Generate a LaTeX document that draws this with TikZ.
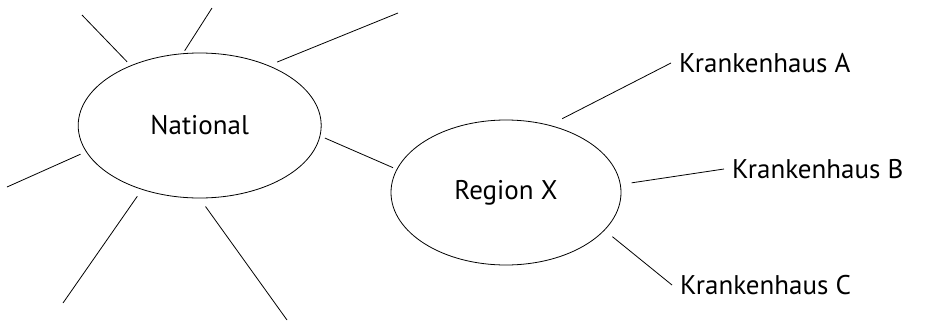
\documentclass[tikz,border=0pt]{standalone}
\usepackage{fontspec}
\setmainfont{PT Sans}
\usetikzlibrary{shapes.geometric}

\begin{document}
\begin{tikzpicture}[x=1pt,y=-1pt,
    every node/.style={font=\fontsize{27}{32}\selectfont},
    feld/.style={draw,ellipse,line width=0.8pt,inner sep=0pt},
    strahl/.style={line width=0.8pt},
    haus/.style={anchor=west,inner xsep=8pt,inner ysep=0pt}]
    \useasboundingbox (0,0) rectangle (930,322);
    % Ellipsen
    \node[feld,minimum width=243pt,minimum height=145pt] (nat) at (199.7,125.5) {National};
    \node[feld,minimum width=230pt,minimum height=145pt] (reg) at (506,192.5) {Region X};
    % Krankenhaeuser
    \node[haus] (kA) at (671,63) {Krankenhaus A};
    \node[haus] (kB) at (724,169) {Krankenhaus B};
    \node[haus] (kC) at (672,285) {Krankenhaus C};
    % freie Enden
    \coordinate (s1) at (82,15);
    \coordinate (s2) at (212,8);
    \coordinate (s3) at (398,13);
    \coordinate (s4) at (7,187);
    \coordinate (s5) at (63,303);
    \coordinate (s6) at (287,320);
    % Strahlen um National
    \draw[strahl,shorten <=5pt] (nat.139.2) -- (s1);
    \draw[strahl,shorten <=3pt] (nat.103.7) -- (s2);
    \draw[strahl,shorten <=9pt] (nat.41.6) -- (s3);
    \draw[strahl,shorten <=6pt] (nat.193.4) -- (s4);
    \draw[strahl,shorten <=8pt] (nat.228.2) -- (s5);
    \draw[strahl,shorten <=10pt] (nat.270.5) -- (s6);
    \draw[strahl,shorten <=5pt,shorten >=4pt] (nat.-5.5) -- (reg.168.2);
    % Strahlen um Region X
    \draw[strahl,shorten <=14pt] (reg.57) -- (kA.west);
    \draw[strahl,shorten <=11pt] (reg.4.5) -- (kB.west);
    \draw[strahl,shorten <=10pt] (reg.-21.5) -- (kC.west);
\end{tikzpicture}
\end{document}
